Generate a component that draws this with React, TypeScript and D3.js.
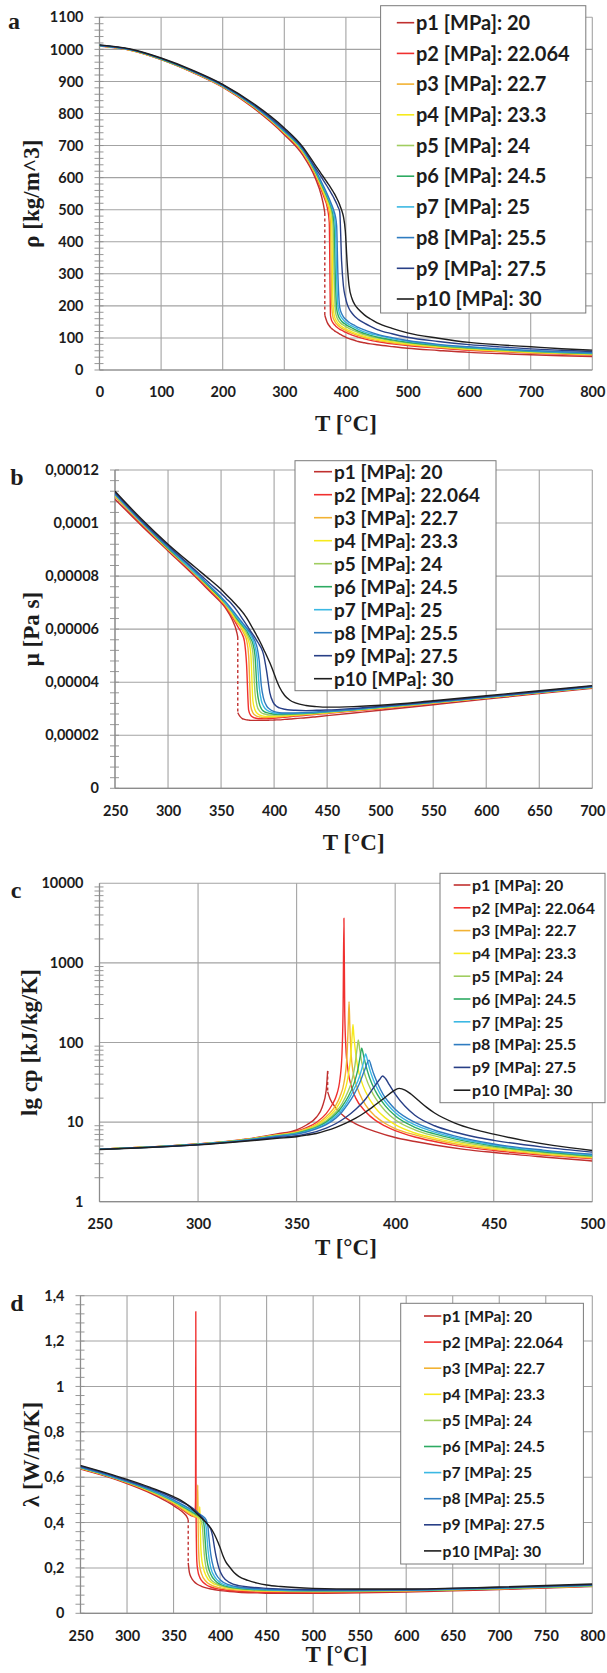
import React, { useEffect, useRef } from 'react';
import * as d3 from 'd3';

type Pt = [number, number];

const seriesLabels = [
  'p1 [MPa]: 20', 'p2 [MPa]: 22.064', 'p3 [MPa]: 22.7', 'p4 [MPa]: 23.3', 'p5 [MPa]: 24',
  'p6 [MPa]: 24.5', 'p7 [MPa]: 25', 'p8 [MPa]: 25.5', 'p9 [MPa]: 27.5', 'p10 [MPa]: 30',
];
const seriesColors = [
  '#c0302f', '#f0302f', '#f2b233', '#f6ea1c', '#a0cd60',
  '#2daa62', '#3bb8e3', '#2f7cc0', '#283f86', '#1e1e1e',
];

// p1 (20 MPa) saturation temperature: liquid and vapour branches joined by a dashed step
const tSat = 365.75;

// ---- a: density [kg/m^3]
const tempA = [0, 50, 100, 150, 200, 250, 300, 330, 350, 360, 365, 370, 373, 375, 377, 379, 381, 383, 385, 387,
  390, 393, 396, 399, 402, 405, 410, 415, 420, 430, 440, 450, 475, 500, 550, 600, 650, 700, 750, 800];
const rhoP1 = [1010, 997, 968, 929, 882, 817, 734, 670, 600, 545, 500, 147, 138, 133, 129, 126, 123, 120, 118, 116,
  112, 109, 106, 103, 100, 98, 95, 92, 89, 85, 81.5, 78.8, 73, 67.7, 61, 55, 51, 47.4, 44.5, 42];
const rhoP2 = [1011, 998, 969, 930, 884, 820, 738, 677, 610, 562, 536, 505, 460, 170, 154, 147, 142, 138, 134, 131,
  127, 124, 121, 118, 115.5, 113, 109, 105.5, 102.5, 97, 92.5, 89, 82, 76.5, 68.5, 61.5, 57, 52.5, 49.5, 46.3];
const rhoP3 = [1011, 998, 969, 931, 884, 821, 740, 679, 613, 568, 544, 517, 495, 455, 200, 165, 155, 148, 143, 139,
  134, 130, 127, 124, 121, 118.5, 114.5, 111, 107.5, 101.5, 96.5, 92.5, 85, 79, 70.5, 63.5, 58.5, 54, 51, 47.7];
const rhoP4 = [1011, 998, 970, 931, 885, 822, 741, 681, 616, 573, 550.5, 526, 509.5, 494, 460, 215, 170, 159, 152, 146,
  140, 136, 132, 129, 126, 123.5, 119, 115, 111.5, 105, 100, 96, 88, 81.5, 72.5, 65.5, 60, 55.5, 52, 49];
const rhoP5 = [1012, 999, 970, 932, 886, 823, 743, 684, 619, 578, 556.5, 533.5, 518.5, 506.5, 490, 455, 280, 182, 166, 157,
  149, 144, 140, 136, 133, 130, 125, 121, 117, 110, 104.5, 100, 91.5, 84.5, 75, 67.7, 62, 57.3, 53.5, 50.4];
const rhoP6 = [1012, 999, 970, 932, 886, 824, 744, 685, 621, 581, 560, 538, 524.5, 514.5, 502.5, 485, 445, 280, 192, 173,
  160, 152, 147, 143, 139, 136, 131, 126, 121, 114, 108, 103, 94, 86.7, 76.5, 69.3, 63.5, 58.5, 54.7, 51.5];
const rhoP7 = [1012, 999, 971, 933, 887, 825, 745, 687, 624, 585, 564.5, 543, 529.5, 520, 509.5, 497, 480, 445, 290, 200,
  174, 163, 156, 150, 146, 142, 137, 132, 127, 119, 113, 109, 98, 90, 78.5, 70.7, 65, 59.8, 55.8, 52.5];
const rhoP8 = [1012, 999, 971, 933, 887, 825, 746, 689, 626, 588, 568, 547, 534, 525, 515.5, 505.5, 494, 479, 450, 300,
  195, 176, 166, 159, 154, 149, 143, 138, 133, 125, 118, 112, 101, 92, 80, 72.3, 66, 61, 57, 53.6];
const rhoP9 = [1013, 1000, 972, 934, 889, 828, 750, 692, 632, 602, 587, 571.5, 562, 555.5, 548.8, 541.8, 534.5, 526.7, 518.5, 509.5,
  493, 340, 262, 228, 206, 192, 177, 166, 158, 146, 136, 127, 113, 102, 89, 79, 72, 66, 61.5, 57.8];
const rhoP10 = [1014, 1001, 973, 936, 891, 831, 755, 696, 640, 612, 598, 584, 575.5, 569.7, 563.7, 557.5, 551, 544, 536.5, 528.5,
  515, 499, 478, 435, 335, 265, 222, 202, 190, 172, 159, 148, 130, 116, 99, 86, 78.5, 72.5, 66.5, 62];
const rhoSat: Pt = [490, 171];

// ---- b: dynamic viscosity [1e-6 Pa s]
const tempB = [250, 275, 300, 325, 340, 350, 355, 360, 365, 368, 370, 372, 374, 376, 378, 380, 382, 384, 386, 388,
  390, 393, 396, 399, 402, 405, 410, 415, 420, 430, 440, 450, 475, 500, 550, 600, 650, 700];
const muP1 = [109, 99, 89.5, 80, 74, 70, 67.5, 64, 58.5, 27, 26.3, 26, 25.8, 25.7, 25.6, 25.6, 25.6, 25.6, 25.6, 25.6,
  25.6, 25.6, 25.7, 25.7, 25.8, 25.8, 26, 26.1, 26.3, 26.6, 27, 27.4, 28.4, 29.4, 31.5, 33.6, 35.7, 37.7];
const muP2 = [110, 99.5, 90, 80.5, 74.5, 70.5, 68, 65, 61.5, 59.5, 58, 55.5, 47, 29.5, 27.5, 26.8, 26.5, 26.3, 26.2, 26.2,
  26.2, 26.2, 26.3, 26.4, 26.5, 26.6, 26.8, 27, 27.2, 27.5, 27.9, 28.2, 29.1, 30, 32, 34, 36, 38];
const muP3 = [110, 100, 90, 81, 75, 71, 68.5, 65.5, 62.5, 61, 59.5, 58, 56, 50, 31, 28.5, 27.6, 27.1, 26.9, 26.8,
  26.7, 26.7, 26.8, 26.8, 26.9, 27, 27.1, 27.3, 27.5, 27.8, 28.1, 28.4, 29.3, 30.2, 32.1, 34.1, 36.1, 38];
const muP4 = [110.5, 100, 90.5, 81, 75, 71, 69, 66, 63, 61.5, 60.5, 59, 57.5, 55.5, 51, 33, 29.5, 28.3, 27.7, 27.4,
  27.2, 27.1, 27.1, 27.1, 27.2, 27.2, 27.3, 27.5, 27.6, 27.9, 28.2, 28.5, 29.4, 30.3, 32.2, 34.1, 36.1, 38.1];
const muP5 = [110.5, 100, 90.5, 81, 75.5, 71.5, 69, 66.5, 63.5, 62, 61, 60, 58.5, 57, 55, 51, 36, 31, 29.3, 28.5,
  28.1, 27.8, 27.6, 27.6, 27.6, 27.6, 27.7, 27.8, 27.9, 28.1, 28.4, 28.7, 29.5, 30.4, 32.3, 34.2, 36.2, 38.1];
const muP6 = [111, 100.5, 90.5, 81.5, 75.5, 71.5, 69.5, 67, 64, 62.5, 61.5, 60.5, 59.5, 58, 56.5, 54.5, 50, 37, 32, 30,
  29.1, 28.5, 28.2, 28, 27.9, 27.9, 27.9, 28, 28.1, 28.3, 28.5, 28.8, 29.6, 30.5, 32.4, 34.3, 36.2, 38.2];
const muP7 = [111, 100.5, 91, 81.5, 76, 72, 69.5, 67, 64.5, 63, 62, 61, 60, 59, 57.5, 56, 53.5, 49, 38, 33,
  31, 29.5, 28.9, 28.5, 28.3, 28.2, 28.2, 28.2, 28.3, 28.5, 28.7, 28.9, 29.7, 30.6, 32.4, 34.3, 36.3, 38.2];
const muP8 = [111, 100.5, 91, 82, 76, 72, 70, 67.5, 65, 63.5, 62.5, 61.5, 60.5, 59.5, 58.5, 57, 55.5, 53, 48, 38.5,
  34, 31, 29.8, 29.1, 28.7, 28.5, 28.4, 28.4, 28.4, 28.6, 28.8, 29, 29.8, 30.7, 32.5, 34.4, 36.3, 38.3];
const muP9 = [111.5, 101, 91.5, 82.5, 77, 73.5, 71.5, 69.5, 67, 65.2, 64, 62.8, 61.6, 60.4, 59.2, 58, 56.8, 55.5, 54.2, 52.8,
  50.5, 44, 36, 32.5, 31, 30.3, 29.8, 29.5, 29.4, 29.3, 29.4, 29.5, 30.1, 30.9, 32.7, 34.6, 36.5, 38.5];
const muP10 = [112, 101.5, 92, 83.5, 78.5, 75, 73, 71, 68.8, 67.5, 66.5, 65.5, 64.3, 63, 61.6, 60.2, 58.8, 57.3, 55.8, 54.2,
  52.5, 50, 47.3, 44.3, 41, 38.2, 35, 33.2, 32.2, 31.2, 30.8, 30.6, 30.8, 31.3, 33, 34.9, 36.8, 38.7];
const muSat: Pt = [57, 28.5];

// ---- c: isobaric heat capacity [kJ/kg/K], (T, cp)
const cpP1: Pt[] = [[250, 4.58], [275, 4.88], [300, 5.32], [325, 6.15], [340, 7.1], [350, 8.0], [355, 9.2], [360, 11.5],
  [363, 15.5], [365, 25], [367, 19.5], [370, 15], [375, 11.3], [380, 9.5], [390, 7.6], [400, 6.4], [410, 5.7],
  [420, 5.15], [435, 4.55], [450, 4.15], [475, 3.65], [500, 3.25]];
const cpP2: Pt[] = [[250, 4.57], [275, 4.87], [300, 5.3], [325, 6.1], [340, 6.95], [350, 7.7], [355, 8.5], [360, 9.9],
  [365, 12.8], [368, 16.5], [370, 21], [372, 35], [373, 70], [373.6, 300], [374, 3650], [374.4, 250], [375, 85],
  [376, 46], [378, 27], [380, 20], [385, 13.5], [390, 10.5], [395, 8.9], [400, 7.8], [410, 6.5], [420, 5.7],
  [430, 5.1], [450, 4.4], [475, 3.85], [500, 3.45]];
const cpP3: Pt[] = [[250, 4.57], [275, 4.86], [300, 5.29], [325, 6.08], [340, 6.9], [350, 7.55], [355, 8.25], [360, 9.4],
  [365, 11.7], [368, 14], [370, 16.5], [372, 21], [374, 31], [375.5, 65], [376.2, 170], [376.6, 326], [377, 160],
  [377.6, 75], [378.6, 43], [380, 31], [382, 22.5], [385, 16.3], [390, 11.8], [395, 9.6], [400, 8.3], [410, 6.9],
  [420, 6.0], [430, 5.35], [450, 4.55], [475, 3.95], [500, 3.55]];
const cpP4: Pt[] = [[250, 4.56], [275, 4.86], [300, 5.28], [325, 6.05], [340, 6.85], [350, 7.45], [355, 8.1], [360, 9.1],
  [365, 11.0], [368, 12.9], [370, 14.8], [372, 17.8], [374, 23], [376, 36], [377.5, 70], [378.2, 125], [378.6, 169],
  [379, 125], [380, 72], [381, 49], [383, 32], [385, 24], [390, 15], [395, 11.3], [400, 9.3], [410, 7.3], [420, 6.3],
  [430, 5.6], [450, 4.7], [475, 4.05], [500, 3.62]];
const cpP5: Pt[] = [[250, 4.56], [275, 4.85], [300, 5.27], [325, 6.02], [340, 6.78], [350, 7.35], [355, 7.95], [360, 8.85],
  [365, 10.4], [370, 13.5], [373, 17], [376, 24], [378, 33], [379.5, 50], [380.7, 85], [381.3, 108], [382, 82],
  [383, 57], [385, 37], [388, 24.5], [390, 20], [395, 13.8], [400, 10.7], [410, 8.0], [420, 6.7], [430, 5.85],
  [450, 4.85], [475, 4.15], [500, 3.7]];
const cpP6: Pt[] = [[250, 4.55], [275, 4.85], [300, 5.26], [325, 6.0], [340, 6.72], [350, 7.25], [355, 7.8], [360, 8.6],
  [365, 10], [370, 12.7], [373, 15.6], [376, 20.5], [379, 30], [381, 45], [382.3, 68], [383, 85], [384, 68], [385, 53],
  [387, 36], [390, 24.5], [395, 16], [400, 12], [410, 8.6], [420, 7.1], [430, 6.15], [450, 5.0], [475, 4.25], [500, 3.78]];
const cpP7: Pt[] = [[250, 4.55], [275, 4.84], [300, 5.25], [325, 5.97], [340, 6.66], [350, 7.15], [355, 7.65], [360, 8.4],
  [365, 9.6], [370, 12], [373, 14.3], [376, 18.5], [379, 25.5], [382, 38], [384, 57], [385, 72], [386, 59], [387, 47],
  [389, 33.5], [392, 23.5], [395, 18], [400, 13.2], [410, 9.2], [420, 7.5], [430, 6.4], [450, 5.15], [475, 4.35], [500, 3.86]];
const cpP8: Pt[] = [[250, 4.55], [275, 4.84], [300, 5.24], [325, 5.94], [340, 6.6], [350, 7.05], [355, 7.5], [360, 8.2],
  [365, 9.3], [370, 11.3], [373, 13.4], [376, 16.8], [379, 22], [382, 31], [384.5, 45], [386.7, 60], [388, 49], [389, 41],
  [391, 31], [394, 22], [397, 17.5], [400, 14.5], [410, 9.9], [420, 7.9], [430, 6.7], [450, 5.3], [475, 4.45], [500, 3.94]];
const cpP9: Pt[] = [[250, 4.54], [275, 4.82], [300, 5.2], [325, 5.85], [340, 6.4], [350, 6.75], [355, 7.1], [360, 7.6],
  [365, 8.4], [370, 9.6], [375, 11.5], [380, 14.5], [385, 19.5], [389, 27], [392, 34], [393.6, 38], [395, 35.5],
  [397, 29.5], [400, 22.5], [405, 15.8], [410, 12.2], [420, 9.0], [430, 7.5], [440, 6.55], [450, 5.9], [475, 4.85], [500, 4.2]];
const cpP10: Pt[] = [[250, 4.53], [275, 4.8], [300, 5.17], [325, 5.78], [340, 6.25], [350, 6.55], [355, 6.85], [360, 7.2],
  [365, 7.8], [370, 8.6], [375, 9.7], [380, 11.2], [385, 13.4], [390, 16.5], [395, 20.5], [399, 24.5], [402, 26.5],
  [405, 25.3], [408, 22.5], [412, 18.5], [416, 15.3], [420, 13], [430, 9.8], [440, 8.1], [450, 7.05], [465, 5.9],
  [480, 5.1], [500, 4.4]];
const cpSat: Pt = [44, 24];

// ---- d: thermal conductivity [W/m/K], (T, lambda)
const lamP1: Pt[] = [[250, 0.636], [275, 0.607], [300, 0.572], [325, 0.53], [340, 0.499], [350, 0.475], [355, 0.461],
  [360, 0.445], [365, 0.42], [367, 0.18], [369, 0.158], [372, 0.14], [376, 0.127], [380, 0.119], [385, 0.112],
  [390, 0.107], [400, 0.1], [410, 0.096], [420, 0.093], [440, 0.09], [460, 0.088], [500, 0.088], [550, 0.09],
  [600, 0.094], [650, 0.099], [700, 0.105], [750, 0.111], [800, 0.118]];
const lamP2: Pt[] = [[250, 0.638], [275, 0.609], [300, 0.575], [325, 0.534], [340, 0.505], [350, 0.482], [355, 0.469],
  [360, 0.455], [365, 0.44], [370, 0.428], [373, 0.425], [373.6, 0.5], [373.9, 1.33], [374.2, 0.45], [374.6, 0.3],
  [375, 0.23], [376, 0.19], [378, 0.16], [380, 0.145], [385, 0.126], [390, 0.116], [400, 0.106], [420, 0.097],
  [450, 0.093], [500, 0.092], [600, 0.097], [700, 0.107], [800, 0.12]];
const lamP3: Pt[] = [[250, 0.639], [275, 0.61], [300, 0.576], [325, 0.536], [340, 0.507], [350, 0.485], [355, 0.472],
  [360, 0.459], [365, 0.445], [370, 0.432], [374, 0.425], [375.5, 0.44], [376, 0.566], [376.4, 0.4], [377, 0.27],
  [378, 0.21], [380, 0.175], [385, 0.14], [390, 0.125], [400, 0.112], [420, 0.102], [450, 0.097], [500, 0.095],
  [600, 0.099], [700, 0.108], [800, 0.12]];
const lamP4: Pt[] = [[250, 0.64], [275, 0.611], [300, 0.578], [325, 0.538], [340, 0.51], [350, 0.488], [355, 0.476],
  [360, 0.463], [365, 0.45], [370, 0.437], [375, 0.425], [377.5, 0.42], [378.2, 0.47], [378.6, 0.4], [379.2, 0.3],
  [380, 0.25], [382, 0.2], [385, 0.165], [390, 0.138], [400, 0.12], [420, 0.106], [450, 0.1], [500, 0.097],
  [600, 0.1], [700, 0.109], [800, 0.121]];
const lamP5: Pt[] = [[250, 0.641], [275, 0.612], [300, 0.579], [325, 0.54], [340, 0.512], [350, 0.491], [355, 0.48],
  [360, 0.467], [365, 0.455], [370, 0.442], [375, 0.43], [379, 0.415], [381, 0.38], [382, 0.32], [383, 0.26],
  [385, 0.2], [388, 0.165], [390, 0.15], [395, 0.133], [400, 0.123], [410, 0.113], [420, 0.108], [450, 0.101],
  [500, 0.098], [600, 0.1], [700, 0.109], [800, 0.121]];
const lamP6: Pt[] = [[250, 0.642], [275, 0.613], [300, 0.58], [325, 0.542], [340, 0.515], [350, 0.494], [355, 0.483],
  [360, 0.471], [365, 0.459], [370, 0.447], [375, 0.435], [380, 0.42], [382, 0.405], [383, 0.38], [384, 0.32],
  [385, 0.265], [387, 0.21], [390, 0.172], [395, 0.143], [400, 0.128], [410, 0.116], [420, 0.11], [450, 0.102],
  [500, 0.099], [600, 0.101], [700, 0.11], [800, 0.122]];
const lamP7: Pt[] = [[250, 0.643], [275, 0.614], [300, 0.581], [325, 0.544], [340, 0.517], [350, 0.497], [355, 0.486],
  [360, 0.475], [365, 0.463], [370, 0.451], [375, 0.44], [380, 0.427], [383, 0.412], [385, 0.38], [386, 0.33],
  [387, 0.28], [390, 0.2], [395, 0.156], [400, 0.136], [410, 0.12], [420, 0.113], [450, 0.104], [500, 0.1],
  [600, 0.102], [700, 0.111], [800, 0.123]];
const lamP8: Pt[] = [[250, 0.644], [275, 0.615], [300, 0.582], [325, 0.546], [340, 0.52], [350, 0.5], [355, 0.489],
  [360, 0.478], [365, 0.467], [370, 0.455], [375, 0.444], [380, 0.432], [385, 0.412], [387, 0.38], [388, 0.335],
  [390, 0.26], [393, 0.2], [396, 0.17], [400, 0.148], [410, 0.125], [420, 0.116], [450, 0.106], [500, 0.101],
  [600, 0.103], [700, 0.112], [800, 0.124]];
const lamP9: Pt[] = [[250, 0.648], [275, 0.619], [300, 0.586], [325, 0.551], [340, 0.527], [350, 0.508], [355, 0.498],
  [360, 0.488], [365, 0.478], [370, 0.465], [375, 0.448], [380, 0.425], [385, 0.4], [388, 0.385], [390, 0.37],
  [392, 0.34], [394, 0.29], [396, 0.245], [398, 0.21], [400, 0.185], [403, 0.162], [410, 0.136], [420, 0.122],
  [450, 0.11], [500, 0.104], [600, 0.105], [700, 0.114], [800, 0.126]];
const lamP10: Pt[] = [[250, 0.652], [275, 0.622], [300, 0.59], [325, 0.555], [340, 0.532], [350, 0.514], [355, 0.504],
  [360, 0.492], [365, 0.478], [370, 0.46], [375, 0.44], [380, 0.42], [385, 0.4], [390, 0.375], [393, 0.355],
  [396, 0.33], [400, 0.29], [403, 0.255], [406, 0.228], [410, 0.205], [415, 0.18], [420, 0.163], [430, 0.145],
  [440, 0.133], [450, 0.125], [465, 0.118], [500, 0.11], [550, 0.107], [600, 0.107], [700, 0.116], [800, 0.129]];
const lamSat: Pt = [0.412, 0.222];

// tick values
const ticksTa = [0, 100, 200, 300, 400, 500, 600, 700, 800];
const ticksRho = [0, 100, 200, 300, 400, 500, 600, 700, 800, 900, 1000, 1100];
const ticksTb = [250, 300, 350, 400, 450, 500, 550, 600, 650, 700];
const ticksMu = [0, 20, 40, 60, 80, 100, 120];
const ticksTc = [250, 300, 350, 400, 450, 500];
const ticksCp = [1, 10, 100, 1000, 10000];
const ticksTd = [250, 300, 350, 400, 450, 500, 550, 600, 650, 700, 750, 800];
const ticksLam = [0, 0.2, 0.4, 0.6, 0.8, 1, 1.2, 1.4];

const zip = (ts: number[], vs: number[]): Pt[] => ts.map((t, i) => [t, vs[i]] as Pt);
const comma = (v: number) => String(v).replace('.', ',');

const GRID = '#a3a3a3';
const AXIS = '#8c8c8c';
const INK = '#1c1c1c';
const SANS = 'Lato, "Open Sans", sans-serif';
const SERIF = '"Liberation Serif", "Times New Roman", serif';

const logMinor = () => {
  const out: number[] = [];
  [1, 10, 100, 1000].forEach(dec => { for (let k = 2; k <= 9; k++) out.push(k * dec); });
  return out;
};

const panels = [
  {
    letter: 'a', lx: 14, ly: 29, yTitle: 'ρ [kg/m^3]', yTitleX: 31, titleY: 431,
    box: { left: 99.5, right: 592.3, top: 17.3, bottom: 370 },
    xDomain: [0, 800], yDomain: [0, 1100], log: false,
    xTicks: ticksTa, yTicks: ticksRho, yMinor: d3.range(0, 1101, 20),
    fmt: (v: number) => String(v),
    series: [rhoP1, rhoP2, rhoP3, rhoP4, rhoP5, rhoP6, rhoP7, rhoP8, rhoP9, rhoP10].map(v => zip(tempA, v)),
    sat: rhoSat,
    legend: { x0: 380.6, x1: 585.8, y0: 5.7, y1: 313, row0: 22.7, step: 30.7, font: 20, l0: 396.8, l1: 414.2, tx: 416 },
  },
  {
    letter: 'b', lx: 17, ly: 485, yTitle: 'μ [Pa s]', yTitleX: 31, titleY: 850,
    box: { left: 115, right: 592.3, top: 470, bottom: 788.3 },
    xDomain: [250, 700], yDomain: [0, 120], log: false,
    xTicks: ticksTb, yTicks: ticksMu, yMinor: d3.range(0, 121, 4),
    fmt: (v: number) => (v === 0 ? '0' : comma(+(v * 1e-6).toFixed(6))),
    series: [muP1, muP2, muP3, muP4, muP5, muP6, muP7, muP8, muP9, muP10].map(v => zip(tempB, v)),
    sat: muSat,
    legend: { x0: 295, x1: 496, y0: 460.7, y1: 690.7, row0: 471.7, step: 23, font: 19, l0: 314, l1: 332, tx: 334 },
  },
  {
    letter: 'c', lx: 16, ly: 898, yTitle: 'lg cp [kJ/kg/K]', yTitleX: 29, titleY: 1255,
    box: { left: 99.5, right: 592.3, top: 883.3, bottom: 1201.7 },
    xDomain: [250, 500], yDomain: [1, 10000], log: true,
    xTicks: ticksTc, yTicks: ticksCp, yMinor: logMinor(),
    fmt: (v: number) => String(v),
    series: [cpP1, cpP2, cpP3, cpP4, cpP5, cpP6, cpP7, cpP8, cpP9, cpP10],
    sat: cpSat,
    legend: { x0: 440, x1: 605, y0: 873.3, y1: 1102.7, row0: 885, step: 22.8, font: 16, l0: 453.7, l1: 470.4, tx: 472 },
  },
  {
    letter: 'd', lx: 17, ly: 1311, yTitle: 'λ [W/m/K]', yTitleX: 31, titleY: 1662,
    box: { left: 80.5, right: 592.3, top: 1295.7, bottom: 1613.3 },
    xDomain: [250, 800], yDomain: [0, 1.4], log: false,
    xTicks: ticksTd, yTicks: ticksLam, yMinor: d3.range(0, 36).map(i => +(i * 0.04).toFixed(2)),
    fmt: (v: number) => comma(+v.toFixed(1)),
    series: [lamP1, lamP2, lamP3, lamP4, lamP5, lamP6, lamP7, lamP8, lamP9, lamP10],
    sat: lamSat,
    legend: { x0: 400.7, x1: 583.4, y0: 1303.3, y1: 1564, row0: 1316, step: 26.1, font: 15.7, l0: 424, l1: 441.3, tx: 442.5 },
  },
];

const App = () => {
  const svgRef = useRef<SVGSVGElement>(null);

  useEffect(() => {
    const svg = d3.select(svgRef.current);
    svg.selectAll('*').remove();
    const defs = svg.append('defs');

    panels.forEach((p, pi) => {
      const { left, right, top, bottom } = p.box;
      const x = d3.scaleLinear().domain(p.xDomain).range([left, right]);
      const y: any = p.log
        ? d3.scaleLog().domain(p.yDomain).range([bottom, top])
        : d3.scaleLinear().domain(p.yDomain).range([bottom, top]);
      const g = svg.append('g');

      // grid
      g.append('g').selectAll('line').data(p.xTicks).join('line')
        .attr('x1', d => x(d)).attr('x2', d => x(d)).attr('y1', top).attr('y2', bottom)
        .attr('stroke', GRID).attr('stroke-width', 1.1);
      g.append('g').selectAll('line').data(p.yTicks).join('line')
        .attr('x1', left).attr('x2', right).attr('y1', d => y(d)).attr('y2', d => y(d))
        .attr('stroke', GRID).attr('stroke-width', 1.1);

      // minor ticks crossing the value axis
      g.append('g').selectAll('line').data(p.yMinor).join('line')
        .attr('x1', left - 5).attr('x2', left + 4).attr('y1', d => y(d)).attr('y2', d => y(d))
        .attr('stroke', AXIS).attr('stroke-width', 0.9);

      g.append('line').attr('x1', left).attr('x2', left).attr('y1', top).attr('y2', bottom)
        .attr('stroke', AXIS).attr('stroke-width', 1.2);
      g.append('line').attr('x1', left).attr('x2', right).attr('y1', bottom).attr('y2', bottom)
        .attr('stroke', AXIS).attr('stroke-width', 1.2);

      // axes labels
      const yAxis = g.append('g').attr('transform', `translate(${left},0)`)
        .call(d3.axisLeft(y).tickValues(p.yTicks).tickFormat(p.fmt as any).tickSize(0).tickPadding(16));
      const xAxis = g.append('g').attr('transform', `translate(0,${bottom})`)
        .call(d3.axisBottom(x).tickValues(p.xTicks).tickFormat(d3.format('d')).tickSize(0));
      [yAxis, xAxis].forEach(a => {
        a.select('.domain').remove();
        a.attr('font-family', SANS).attr('font-size', 14.5);
        a.selectAll('text').attr('font-weight', 700).attr('fill', INK);
      });
      xAxis.selectAll('text').attr('y', 22).attr('dy', '0.36em');

      // series lines
      const clipId = `plot-clip-${pi}`;
      defs.append('clipPath').attr('id', clipId).append('rect')
        .attr('x', left).attr('y', top - 1).attr('width', right - left).attr('height', bottom - top + 1);
      const lines = g.append('g').attr('clip-path', `url(#${clipId})`);
      const line = d3.line<Pt>().x(d => x(d[0])).y(d => y(d[1])).curve(d3.curveMonotoneX);
      const path = (pts: Pt[], color: string) => lines.append('path').attr('d', line(pts))
        .attr('fill', 'none').attr('stroke', color).attr('stroke-width', 1.4).attr('stroke-linejoin', 'round');

      p.series.forEach((pts, i) => {
        const color = seriesColors[i];
        if (i === 0) {
          const liq: Pt[] = [...pts.filter(d => d[0] < tSat), [tSat, p.sat[0]]];
          const vap: Pt[] = [[tSat, p.sat[1]], ...pts.filter(d => d[0] > tSat)];
          path(liq, color);
          path(vap, color);
          lines.append('line')
            .attr('x1', x(tSat)).attr('x2', x(tSat)).attr('y1', y(p.sat[0])).attr('y2', y(p.sat[1]))
            .attr('stroke', color).attr('stroke-width', 1.4).attr('stroke-dasharray', '3,2.5');
        } else {
          path(pts, color);
        }
      });

      // legend
      const L = p.legend;
      const lg = g.append('g');
      lg.append('rect').attr('x', L.x0).attr('y', L.y0).attr('width', L.x1 - L.x0).attr('height', L.y1 - L.y0)
        .attr('fill', '#fff').attr('stroke', '#7a7a7a').attr('stroke-width', 1);
      seriesLabels.forEach((name, i) => {
        const cy = L.row0 + i * L.step;
        lg.append('line').attr('x1', L.l0).attr('x2', L.l1).attr('y1', cy).attr('y2', cy)
          .attr('stroke', seriesColors[i]).attr('stroke-width', 1.6);
        lg.append('text').attr('x', L.tx).attr('y', cy).attr('dy', '0.36em')
          .attr('font-family', SANS).attr('font-weight', 700).attr('font-size', L.font).attr('fill', INK)
          .text(name);
      });

      // titles
      g.append('text').attr('x', (left + right) / 2).attr('y', p.titleY).attr('text-anchor', 'middle')
        .attr('font-family', SERIF).attr('font-weight', 700).attr('font-size', 23).attr('fill', INK)
        .text('T [°C]');
      g.append('text').attr('transform', `translate(${p.yTitleX},${(top + bottom) / 2}) rotate(-90)`)
        .attr('text-anchor', 'middle').attr('dy', '0.35em')
        .attr('font-family', SERIF).attr('font-weight', 700).attr('font-size', 23).attr('fill', INK)
        .text(p.yTitle);
      g.append('text').attr('x', p.lx).attr('y', p.ly).attr('text-anchor', 'middle')
        .attr('font-family', SERIF).attr('font-weight', 700).attr('font-size', 24).attr('fill', INK)
        .text(p.letter);
    });
  }, []);

  return (
    <svg ref={svgRef} width={607} height={1673}
      style={{ position: 'absolute', left: 0, top: 0, background: '#fff' }} />
  );
};

export default App;
